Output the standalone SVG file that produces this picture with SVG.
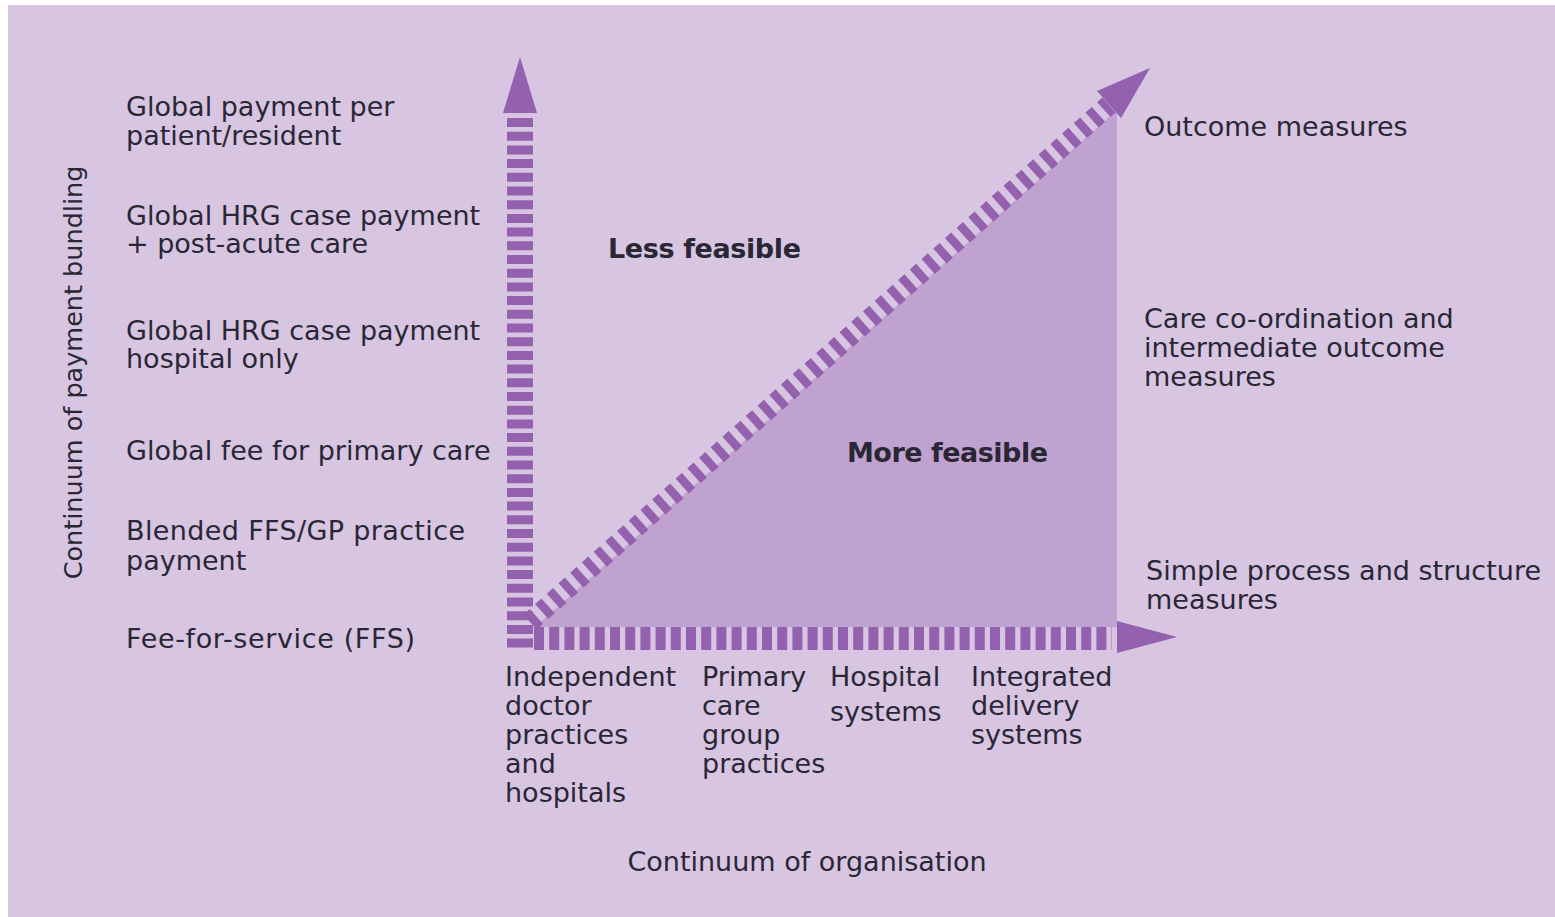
<svg xmlns="http://www.w3.org/2000/svg" width="1555" height="917" viewBox="0 0 1555 917">
<style>
text{font-family:"DejaVu Sans","Liberation Sans",sans-serif;font-size:27px;fill:#2a2735}
.b{font-weight:bold}
.ax{font-size:25.5px}
.dash{fill:none;stroke:#9461ae}
.head{fill:#9461ae}
</style>
<rect x="0" y="0" width="1555" height="917" fill="#ffffff"/>
<rect id="background" x="8" y="5" width="1547" height="912" fill="#d7c5e1"/>
<g id="feasible-region">
<polygon points="535,627 1117,627 1117,110" fill="#bfa2cf"/>
</g>
<g id="connectors">
<line class="dash" x1="520" y1="118" x2="520" y2="648" stroke-width="26" stroke-dasharray="9 4.7"/>
<polygon class="head" points="520,57 537,113 503,113"/>
<line class="dash" x1="534" y1="638.5" x2="1112" y2="638.5" stroke-width="23" stroke-dasharray="10 5.2"/>
<polygon class="head" points="1177,637 1117,621 1117,653"/>
<line class="dash" x1="530" y1="622" x2="1109" y2="105" stroke-width="20" stroke-dasharray="8.5 7.2"/>
<polygon class="head" points="1150,68 1121,118 1097,91"/>
</g>
<g id="label-less-feasible"><text class="b" x="608" y="258" textLength="193">Less feasible</text></g>
<g id="label-more-feasible"><text class="b" x="847" y="462" textLength="201">More feasible</text></g>
<g id="y-axis-title"><text class="ax" transform="translate(82,372.5) rotate(-90)" text-anchor="middle">Continuum of payment bundling</text></g>
<g id="x-axis-title"><text x="807" y="871" text-anchor="middle">Continuum of organisation</text></g>
<g id="payment-levels">
<g id="pay-global-patient"><text x="126" y="116">Global payment per</text><text x="126" y="145">patient/resident</text></g>
<g id="pay-hrg-postacute"><text x="126" y="225">Global HRG case payment</text><text x="126" y="253">+ post-acute care</text></g>
<g id="pay-hrg-hospital"><text x="126" y="340">Global HRG case payment</text><text x="126" y="368">hospital only</text></g>
<g id="pay-primary"><text x="126" y="460">Global fee for primary care</text></g>
<g id="pay-blended"><text x="126" y="540" textLength="339">Blended FFS/GP practice</text><text x="126" y="570">payment</text></g>
<g id="pay-ffs"><text x="126" y="648" textLength="289">Fee-for-service (FFS)</text></g>
</g>
<g id="measures">
<g id="m-outcome"><text x="1144" y="136">Outcome measures</text></g>
<g id="m-care"><text x="1144" y="328">Care co-ordination and</text><text x="1144" y="357">intermediate outcome</text><text x="1144" y="386">measures</text></g>
<g id="m-simple"><text x="1146" y="580">Simple process and structure</text><text x="1146" y="609">measures</text></g>
</g>
<g id="organisations">
<g id="org-independent"><text x="505" y="686">Independent</text><text x="505" y="715">doctor</text><text x="505" y="744">practices</text><text x="505" y="773">and</text><text x="505" y="802">hospitals</text></g>
<g id="org-primary"><text x="702" y="686">Primary</text><text x="702" y="715">care</text><text x="702" y="744">group</text><text x="702" y="773">practices</text></g>
<g id="org-hospital"><text x="830" y="686">Hospital</text><text x="830" y="721">systems</text></g>
<g id="org-integrated"><text x="971" y="686">Integrated</text><text x="971" y="715">delivery</text><text x="971" y="744">systems</text></g>
</g>
</svg>
